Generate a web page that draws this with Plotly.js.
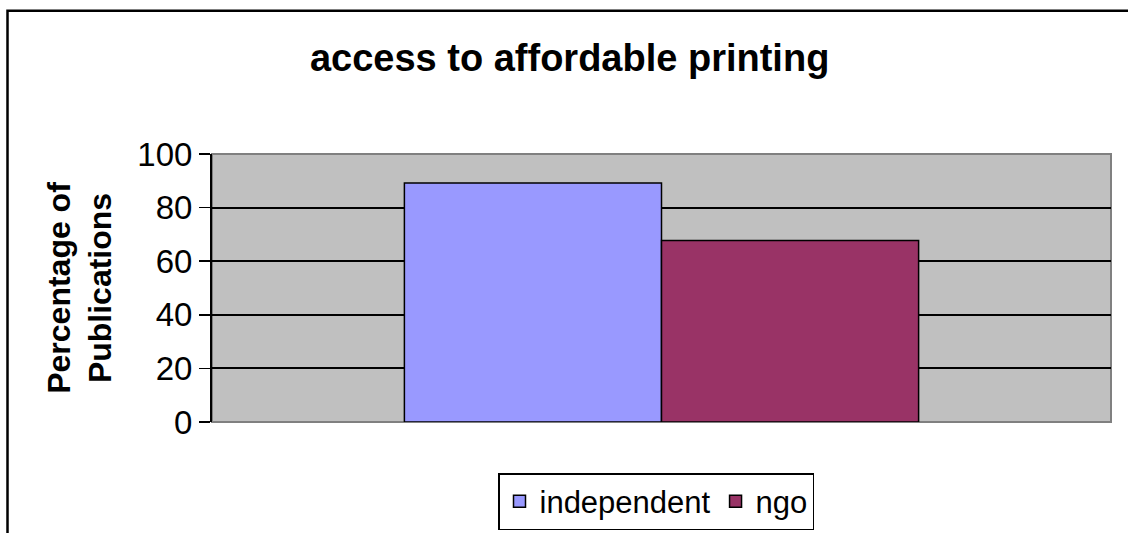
<!DOCTYPE html>
<html>
<head>
<meta charset="utf-8">
<script src="https://cdn.plot.ly/plotly-3.0.1.min.js"></script>
<style>html,body{margin:0;padding:0;background:#fff;}#chart{width:1128px;height:533px;}</style>
</head>
<body>
<div id="chart"></div>
<script>
const chartTitle = 'access to affordable printing';
const yAxisTitle = 'Percentage of<br>Publications';
const categories = ['access to affordable printing'];
const seriesNames = ['independent', 'ngo'];
const independentValues = [89.2];
const ngoValues = [67.7];
const yTickValues = [0, 20, 40, 60, 80, 100];
const yTickLabels = ['0', '20', '40', '60', '80', '100'];

const FONT = 'Liberation Sans, Arial, sans-serif';
const L = 212, R = 17, T = 154, B = 110.5;
const W = 1128, H = 533;
const pw = W - L - R, ph = H - T - B;
const px = v => (v - L) / pw;
const py = v => (H - B - v) / ph;

const traces = [
  {type: 'bar', name: seriesNames[0], x: categories, y: independentValues,
   marker: {color: '#9999FF', line: {color: '#000000', width: 1.5}}},
  {type: 'bar', name: seriesNames[1], x: categories, y: ngoValues,
   marker: {color: '#993366', line: {color: '#000000', width: 1.5}}}
];

const layout = {
  width: W, height: H,
  margin: {l: L, r: R, t: T, b: B, pad: 0, autoexpand: false},
  paper_bgcolor: '#ffffff',
  plot_bgcolor: '#C0C0C0',
  barmode: 'group',
  bargap: 0.428,
  bargroupgap: 0,
  font: {family: FONT, color: '#000000'},
  title: {text: '<b>' + chartTitle + '</b>', font: {family: FONT, size: 38, color: '#000'},
          xref: 'container', yref: 'container', x: 0.505, y: 1 - 58/533, xanchor: 'center', yanchor: 'middle'},
  xaxis: {type: 'category', showticklabels: false, ticks: '', showgrid: false, zeroline: false,
          showline: false, fixedrange: true},
  yaxis: {range: [0, 100], tickvals: yTickValues, ticktext: yTickLabels, ticks: 'outside', ticklen: 11,
          tickwidth: 1.5, tickcolor: '#000', showline: true, linecolor: '#000', linewidth: 2,
          showgrid: true, gridcolor: '#000', gridwidth: 2, zeroline: false,
          tickfont: {family: FONT, size: 33, color: '#000'},
          title: {text: '<b>' + yAxisTitle + '</b>', font: {family: FONT, size: 32, color: '#000'}, standoff: 16},
          automargin: false},
  showlegend: true,
  legend: {orientation: 'h', xref: 'container', yref: 'container', x: 656/W, xanchor: 'center',
           y: 1 - 473/H, yanchor: 'top',
           bgcolor: '#ffffff', bordercolor: '#000', borderwidth: 1.5,
           font: {family: FONT, size: 31, color: '#000'}, itemwidth: 30, traceorder: 'normal'},
  shapes: [
    {type: 'rect', xref: 'paper', yref: 'paper', x0: 0, x1: 1, y0: 0, y1: 1,
     line: {color: '#808080', width: 2}, fillcolor: 'rgba(0,0,0,0)', layer: 'between'},
    {type: 'rect', xref: 'paper', yref: 'paper', x0: px(7.5), x1: px(1140), y0: py(560), y1: py(10.5),
     line: {color: '#000', width: 2.5}, fillcolor: 'rgba(0,0,0,0)', layer: 'below'}
  ]
};

Plotly.newPlot('chart', traces, layout, {staticPlot: true, displayModeBar: false});
</script>
</body>
</html>
